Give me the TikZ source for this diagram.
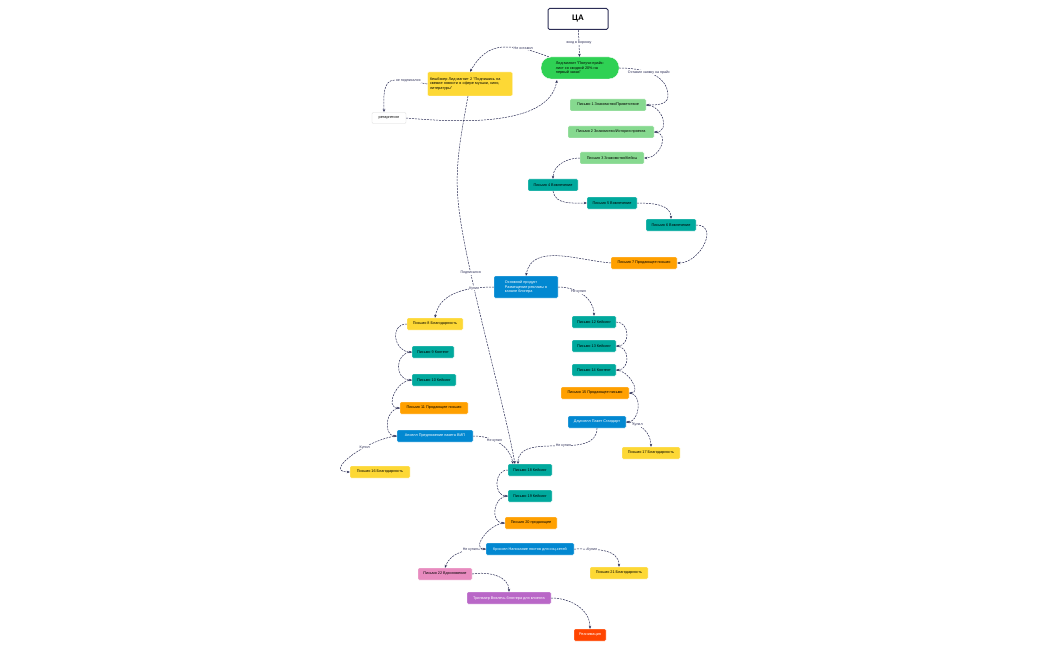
\documentclass[tikz,border=0pt]{standalone}
\usepackage{fontspec}
\setmainfont{Liberation Sans}
\usetikzlibrary{arrows.meta}
\definecolor{nav}{HTML}{2B2D55}
\definecolor{lg}{HTML}{86D98F}
\definecolor{gr}{HTML}{2FD154}
\definecolor{te}{HTML}{00A99D}
\definecolor{ye}{HTML}{FDD835}
\definecolor{orr}{HTML}{FFA000}
\definecolor{bl}{HTML}{0288D1}
\definecolor{pk}{HTML}{E88BBF}
\definecolor{pu}{HTML}{B967C7}
\definecolor{re}{HTML}{FF4500}
\begin{document}
\begin{tikzpicture}[x=1pt,y=-1pt,
 box/.style={rounded corners=1.2pt,inner sep=1pt,minimum height=12pt,font=\fontsize{3.8}{4.6}\selectfont,align=center,draw=white,line width=0.4pt},
 wb/.style={box,text=white},
 e/.style={draw=nav,line width=0.5pt,dash pattern=on 2pt off 1pt,-{Stealth[length=3pt,width=2.5pt]}},
 lb/.style={font=\fontsize{3.6}{4}\selectfont,fill=white,inner sep=0.5pt,text=nav}]
\useasboundingbox (0,0) rectangle (1050,650);
\node[draw=nav,line width=1pt,fill=white,rounded corners=1.5pt,minimum width=60pt,minimum height=21pt,font=\bfseries\fontsize{8}{9}\selectfont] (ca) at (578,19) {ЦА};
\node[box,fill=gr,rounded corners=10pt,minimum width=78pt,minimum height=22pt,align=left] (lead) at (580,68) {Лид-магнит "Получи прайс-\\лист со скидкой 20\% на\\первый заказ"};
\node[box,fill=ye,minimum width=85pt,minimum height=24pt,align=left,text width=80pt] (kb) at (470,84) {Кешбэкер Лид магнит 2 "Подпишись на свежие новости в сфере музыки, кино, литературы"};
\node[box,fill=white,draw=black!15,minimum width=34pt,minimum height=11pt] (ret) at (389,118) {ретаргетинг};
\node[box,fill=lg,minimum width=76pt] (p1) at (608,105) {Письмо 1 Знакомство/Приветствие};
\node[box,fill=lg,minimum width=86pt] (p2) at (611,132) {Письмо 2 Знакомство/История проекта};
\node[box,fill=lg,minimum width=64pt] (p3) at (612,158) {Письмо 3 Знакомство/Кейсы};
\node[box,fill=te,minimum width=50pt] (p4) at (553,185) {Письмо 4 Вовлечение};
\node[box,fill=te,minimum width=50pt] (p5) at (612,203) {Письмо 5 Вовлечение};
\node[box,fill=te,minimum width=50pt] (p6) at (671,225) {Письмо 6 Вовлечение};
\node[box,fill=orr,minimum width=66pt] (p7) at (644,263) {Письмо 7 Продающее письмо};
\node[wb,fill=bl,minimum width=64pt,minimum height=22pt,align=left] (main) at (526,287) {Основной продукт\\Размещение рекламы в\\канале блогера};
\node[box,fill=ye,minimum width=56pt] (p8) at (435,324) {Письмо 8 Благодарность};
\node[box,fill=te,minimum width=42pt] (p9) at (433,352) {Письмо 9 Контент};
\node[box,fill=te,minimum width=44pt] (p10) at (434,380) {Письмо 10 Кейсинг};
\node[box,fill=orr,minimum width=68pt] (p11) at (434,408) {Письмо 11 Продающее письмо};
\node[wb,fill=bl,minimum width=76pt] (ans) at (435,436) {Апселл Предложение пакета ВИП};
\node[box,fill=ye,minimum width=60pt] (p16) at (380,472) {Письмо 16 Благодарность};
\node[box,fill=te,minimum width=44pt] (p12) at (594,322) {Письмо 12 Кейсинг};
\node[box,fill=te,minimum width=44pt] (p13) at (594,346) {Письмо 13 Кейсинг};
\node[box,fill=te,minimum width=44pt] (p14) at (594,370) {Письмо 14 Контент};
\node[box,fill=orr,minimum width=68pt] (p15) at (595,393) {Письмо 15 Продающее письмо};
\node[wb,fill=bl,minimum width=58pt] (ds) at (597,422) {Даунселл Пакет Стандарт};
\node[box,fill=ye,minimum width=58pt] (p17) at (651,453) {Письмо 17 Благодарность};
\node[box,fill=te,minimum width=44pt] (p18) at (530,470) {Письмо 18 Кейсинг};
\node[box,fill=te,minimum width=44pt] (p19) at (530,496) {Письмо 19 Кейсинг};
\node[box,fill=orr,minimum width=52pt] (p20) at (531,523) {Письмо 20 продающее};
\node[wb,fill=bl,minimum width=88pt] (cr) at (530,549) {Кроссел Написание постов для соц.сетей};
\node[box,fill=ye,minimum width=58pt] (p21) at (619,573) {Письмо 21 Благодарность};
\node[box,fill=pk,minimum width=54pt] (p22) at (445,574) {Письмо 22 Вдохновение};
\node[wb,fill=pu,minimum width=84pt] (tw) at (509,598) {Трипваер Вовлечь блоггера для клиента};
\node[wb,fill=re,minimum width=32pt] (rn) at (590,635) {Реанимация};
% edges
\draw[e] (ca) -- node[lb]{вход в воронку} (lead);
\draw[e] (lead.north west) ++(8,0) to[out=160,in=0] node[lb,pos=0.6]{Не оставил} (505,47) to[out=180,in=60] (kb.north);
\draw[e] (kb.west) to[out=170,in=0] node[lb,pos=0.6]{не подписался} (395,80) to[out=180,in=90] (384,112);
\draw[e] (ret.east) to[out=-5,in=-100,looseness=0.8] (557,80);
\draw[e] (468,96) to[out=-100,in=95,looseness=0.9] (458,200) to[out=-85,in=100,looseness=0.6] node[lb,pos=0.3]{Подписался} (515,464);
\draw[e] (lead.east) to[out=0,in=90] node[lb,pos=0.45]{Оставил заявку на прайс} (668,96) to[out=-90,in=0] (p1.east);
\draw[e] (p1.east) to[out=0,in=0,looseness=1.5] (p2.east);
\draw[e] (p2.east) to[out=0,in=0,looseness=1.5] (p3.east);
\draw[e] (p3.west) to[out=180,in=90] (p4.north);
\draw[e] (p4.south) to[out=-80,in=180] (p5.west);
\draw[e] (p5.east) to[out=0,in=90] (p6.north);
\draw[e] (p6.east) to[out=0,in=0,looseness=1.4] (p7.east);
\draw[e] (p7.west) to[out=175,in=80] (main.north);
\draw[e] (main.west) to[out=180,in=80] node[lb,pos=0.25]{Купил} (p8.north);
\draw[e] (p8.west) to[out=180,in=180,looseness=1.6] (p9.west);
\draw[e] (p9.west) to[out=180,in=180,looseness=1.6] (p10.west);
\draw[e] (p10.west) to[out=180,in=180,looseness=1.3] (p11.west);
\draw[e] (p11.west) to[out=180,in=180,looseness=1.3] (ans.west);
\draw[e] (ans.west) to[out=185,in=180,looseness=1.2] node[lb,pos=0.35]{Купил} (p16.west);
\draw[e] (ans.east) to[out=0,in=100] node[lb,pos=0.4]{Не купил} (513,464);
\draw[e] (main.east) to[out=0,in=90] node[lb,pos=0.4]{Не купил} (p12.north);
\draw[e] (p12.east) to[out=0,in=0,looseness=1.5] (p13.east);
\draw[e] (p13.east) to[out=0,in=0,looseness=1.5] (p14.east);
\draw[e] (p14.east) to[out=0,in=0,looseness=1.2] (p15.east);
\draw[e] (p15.east) to[out=0,in=0,looseness=1.2] (ds.east);
\draw[e] (ds.east) to[out=0,in=90] node[lb,pos=0.3]{Купил} (p17.north);
\draw[e] (ds.south) to[out=-90,in=90] node[lb,pos=0.45]{Не купил} (518,464);
\draw[e] (p18.west) to[out=180,in=180,looseness=1.4] (p19.west);
\draw[e] (p19.west) to[out=180,in=180,looseness=1.4] (p20.west);
\draw[e] (p20.west) to[out=180,in=180,looseness=1.2] (cr.west);
\draw[e] (cr.east) to[out=0,in=90] node[lb,pos=0.3]{Купил} (p21.north);
\draw[e] (cr.west) to[out=180,in=70] node[lb,pos=0.3]{Не купил} (p22.north);
\draw[e] (p22.east) to[out=10,in=90] (tw.north);
\draw[e] (tw.east) to[out=0,in=90] (rn.north);
\end{tikzpicture}
\end{document}
